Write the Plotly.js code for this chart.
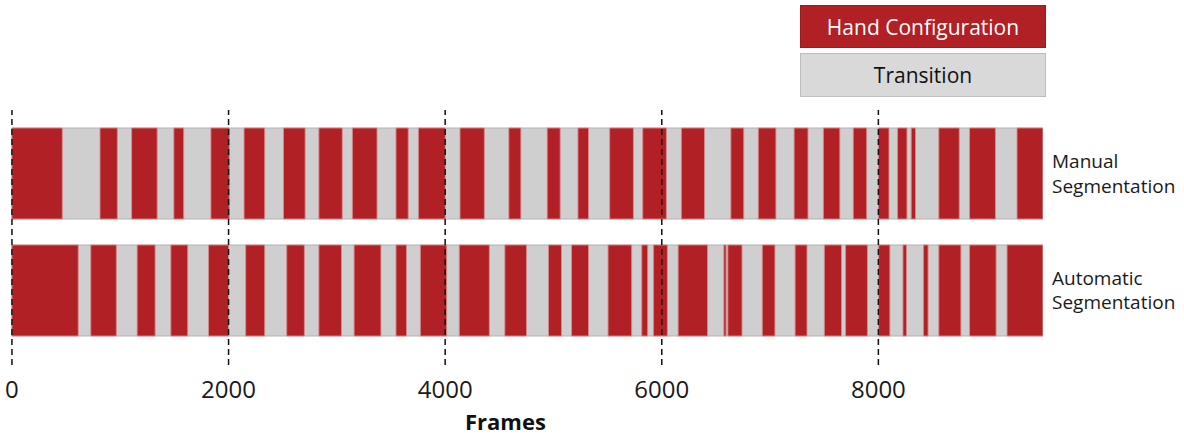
<!DOCTYPE html>
<html>
<head>
<meta charset="utf-8">
<script src="https://cdn.plot.ly/plotly-3.0.1.min.js"></script>
<style>
  html, body { margin: 0; padding: 0; background: #ffffff; }
  #chart { width: 1184px; height: 435px; }
</style>
</head>
<body>
<div id="chart"></div>
<script>
// ---- data (frames) ----
const totalFrames = 9520;
const rowNames = ['Manual<br>Segmentation', 'Automatic<br>Segmentation'];
const rowValues = [1, 0];
const tickValues = [0, 2000, 4000, 6000, 8000];
const tickLabels = ['0', '2000', '4000', '6000', '8000'];

const manualStart = [0, 813, 1105, 1495, 1837, 2143, 2507, 2834, 3143, 3546, 3753, 4137, 4588, 4942, 5226, 5519, 5824, 6181, 6638, 6891, 7222, 7492, 7768, 8000, 8177, 8303, 8558, 8842, 9280];
const manualEnd   = [465, 973, 1341, 1586, 2006, 2334, 2707, 3050, 3371, 3659, 4001, 4362, 4699, 5062, 5324, 5738, 6043, 6395, 6757, 7054, 7350, 7644, 7892, 8098, 8264, 8343, 8747, 9081, 9519];

const autoStart = [0, 728, 1156, 1467, 1815, 2158, 2537, 2834, 3159, 3546, 3771, 4130, 4551, 4954, 5167, 5504, 5815, 5923, 6151, 6573, 6610, 6928, 7231, 7501, 7697, 8003, 8227, 8416, 8558, 8842, 9188];
const autoEnd   = [612, 964, 1322, 1623, 2000, 2334, 2700, 3043, 3407, 3643, 4014, 4408, 4751, 5074, 5324, 5722, 5870, 6052, 6423, 6594, 6741, 7045, 7341, 7660, 7899, 8106, 8260, 8459, 8762, 9087, 9519];

// ---- styles ----
const RED = '#b12024';
const GRAY = '#d0cfd0';
const FONT = '"Open Sans", "Noto Sans", sans-serif';
const BAR_W = 0.778;

function redTrace(starts, ends, yv) {
  return {
    type: 'bar', orientation: 'h',
    base: starts,
    x: starts.map((s, i) => ends[i] - s),
    y: starts.map(() => yv),
    width: BAR_W,
    marker: { color: RED, line: { color: 'rgba(214,140,142,0.9)', width: 1 } },
    hoverinfo: 'skip', showlegend: false
  };
}

const traces = [
  {
    type: 'bar', orientation: 'h',
    base: rowValues.map(() => 0),
    x: rowValues.map(() => totalFrames),
    y: rowValues,
    width: BAR_W,
    marker: { color: GRAY, line: { color: '#b4b4b4', width: 1 } },
    hoverinfo: 'skip', showlegend: false
  },
  redTrace(manualStart, manualEnd, rowValues[0]),
  redTrace(autoStart, autoEnd, rowValues[1])
];

const shapes = tickValues.map(v => ({
  type: 'line', xref: 'x', yref: 'paper', layer: 'above',
  x0: v, x1: v, y0: 0, y1: 1,
  line: { color: '#111111', width: 1.5, dash: '6px,4px' }
}));

const layout = {
  width: 1184, height: 435,
  margin: { l: 10, r: 141, t: 110, b: 70 },
  paper_bgcolor: '#ffffff', plot_bgcolor: '#ffffff',
  barmode: 'overlay',
  font: { family: FONT, color: '#1a1a1a' },
  xaxis: {
    range: [-18, totalFrames],
    tickvals: tickValues, ticktext: tickLabels,
    ticks: '', showgrid: false, zeroline: false, showline: false,
    tickfont: { size: 24, color: '#1a1a1a', family: FONT },
    ticklabelstandoff: 8,
    fixedrange: true
  },
  yaxis: {
    range: [-0.637, 1.543],
    side: 'right',
    tickvals: rowValues, ticktext: rowNames,
    ticks: '', showgrid: false, zeroline: false, showline: false,
    tickfont: { size: 19, color: '#1a1a1a', family: FONT },
    ticklabelstandoff: 8,
    fixedrange: true
  },
  shapes: shapes,
  annotations: [
    {
      text: '<b>Frames</b>', xref: 'paper', yref: 'paper',
      x: (505.5 - 10) / 1033, y: (365 - 421) / 255, xanchor: 'center', yanchor: 'middle',
      showarrow: false, borderpad: 0, font: { size: 22, color: '#111111', family: FONT }
    },
    {
      text: 'Hand Configuration', xref: 'paper', yref: 'paper',
      x: (800 - 10) / 1033, y: 1.4118, xanchor: 'left', yanchor: 'top',
      width: 244, height: 41, borderpad: 0, borderwidth: 1,
      bgcolor: RED, bordercolor: '#9a1b1f',
      showarrow: false, font: { size: 21, color: '#ffffff', family: FONT }
    },
    {
      text: 'Transition', xref: 'paper', yref: 'paper',
      x: (800 - 10) / 1033, y: 1.2235, xanchor: 'left', yanchor: 'top',
      width: 244, height: 42, borderpad: 0, borderwidth: 1,
      bgcolor: '#d9d9d9', bordercolor: '#bdbdbd',
      showarrow: false, font: { size: 21, color: '#111111', family: FONT }
    }
  ]
};

Plotly.newPlot('chart', traces, layout, { staticPlot: true, displayModeBar: false });
</script>
</body>
</html>
